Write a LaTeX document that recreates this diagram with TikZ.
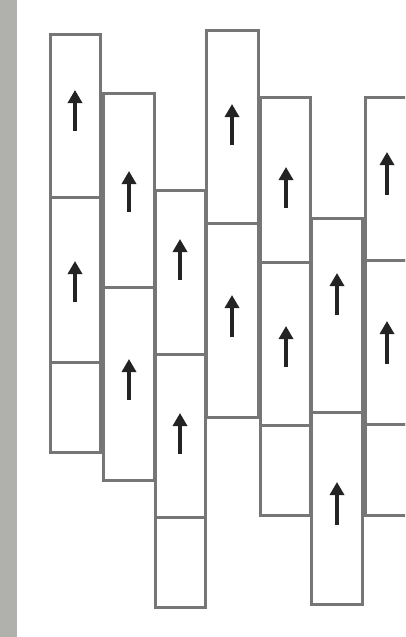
\documentclass[tikz,border=0pt]{standalone}
\usetikzlibrary{arrows.meta}
\definecolor{edge}{RGB}{118,118,118}
\definecolor{strip}{RGB}{176,177,172}
\definecolor{arr}{RGB}{35,35,35}
\tikzset{
  cell/.style={draw=edge, line width=3pt, fill=white, inner sep=0pt, outer sep=0pt, shape=rectangle},
  uparrow/.style={-{Triangle[width=14pt,length=13pt]}, line width=3.6pt, draw=arr}
}
\newcommand\mkcell[5]{\node[cell, minimum width={(#4-#2)*1pt}, minimum height={(#5-#3)*1pt}] (#1) at ({(#2+#4)/2},{(#3+#5)/2}) {};}
\newcommand\mkarrow[3]{\draw[uparrow] (#1,#3) -- (#1,#2);}
\begin{document}
\begin{tikzpicture}[x=1pt,y=-1pt]
\useasboundingbox (0,0) rectangle (405,637);
\clip (0,0) rectangle (405,637);
\fill[white] (0,0) rectangle (405,637);
\fill[strip] (0,0) rectangle (17,637);
% column 1
\mkcell{a1}{50}{34}{100}{197}
\mkcell{a2}{50}{197}{100}{362}
\mkcell{a3}{50}{362}{100}{452}
% column 2
\mkcell{b1}{103}{93}{154}{287}
\mkcell{b2}{103}{287}{154}{480}
% column 3
\mkcell{c1}{155}{190}{205}{354}
\mkcell{c2}{155}{354}{205}{517}
\mkcell{c3}{155}{517}{205}{607}
% column 4
\mkcell{d1}{206}{30}{258}{223}
\mkcell{d2}{206}{223}{258}{417}
% column 5
\mkcell{e1}{260}{97}{310}{262}
\mkcell{e2}{260}{262}{310}{425}
\mkcell{e3}{260}{425}{310}{515}
% column 6
\mkcell{f1}{311}{218}{362}{412}
\mkcell{f2}{311}{412}{362}{604}
% column 7
\mkcell{g1}{365}{97}{416}{260}
\mkcell{g2}{365}{260}{416}{424}
\mkcell{g3}{365}{424}{416}{515}
% arrows
\mkarrow{75}{90}{131}
\mkarrow{75}{261}{302}
\mkarrow{129}{171}{212}
\mkarrow{129}{359}{400}
\mkarrow{180}{239}{280}
\mkarrow{180}{413}{454}
\mkarrow{232}{104}{145}
\mkarrow{232}{295}{337}
\mkarrow{286}{167}{208}
\mkarrow{286}{326}{367}
\mkarrow{337}{273}{315}
\mkarrow{337}{482}{525}
\mkarrow{387}{152}{195}
\mkarrow{387}{321}{364}
\end{tikzpicture}
\end{document}
